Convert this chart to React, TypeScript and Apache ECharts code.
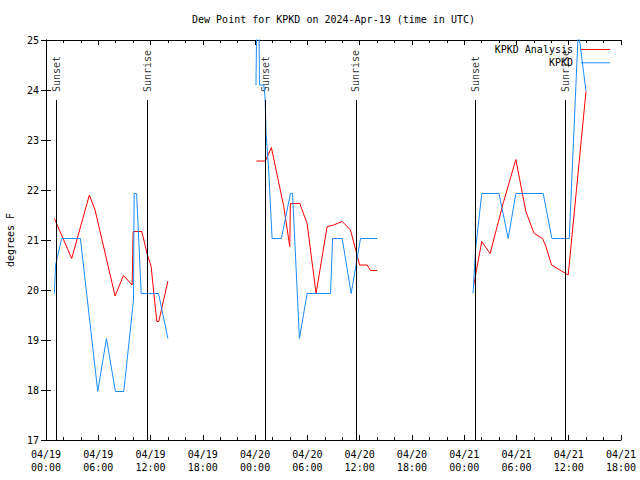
import React, { useEffect, useRef } from "react";
import * as echarts from "echarts";

// hours since 2024-04-19 00:00 UTC
const xTickLabels = [
  "04/19\n00:00", "04/19\n06:00", "04/19\n12:00", "04/19\n18:00",
  "04/20\n00:00", "04/20\n06:00", "04/20\n12:00", "04/20\n18:00",
  "04/21\n00:00", "04/21\n06:00", "04/21\n12:00", "04/21\n18:00",
];

// KPKD Analysis (red)
const analysisHours = [
  0.96, 2.95, 4.98, 5.63, 7.93, 8.89, 9.89, 10.0, 11.0, 11.61, 12.07, 12.34, 12.72, 12.95, 13.99,
  19,
  24.15, 25.18, 25.87, 27.29, 27.98, 28.05, 29.13, 29.97, 31.0, 32.27, 33.0, 34.0, 34.95, 36.0, 36.87, 37.25, 38.02,
  43,
  49.06, 50.02, 50.98, 52.5, 53.93, 55.08, 56.03, 57.0, 57.38, 58.03, 59.94, 61.98,
];
const analysisDew = [
  21.43, 20.63, 21.9, 21.6, 19.88, 20.29, 20.1, 21.17, 21.17, 20.72, 20.47, 20.0, 19.37, 19.37, 20.18,
  null,
  22.58, 22.58, 22.85, 21.67, 20.87, 21.73, 21.73, 21.33, 19.93, 21.27, 21.3, 21.37, 21.2, 20.5, 20.5, 20.39, 20.39,
  null,
  20.07, 20.97, 20.73, 21.75, 22.61, 21.57, 21.13, 21.03, 20.87, 20.5, 20.3, 23.97,
];

// KPKD observations (blue)
const obsHours = [
  0.96, 1.1, 1.8, 3.95, 5.94, 6.94, 7.97, 8.93, 10.04, 10.12, 10.4, 10.93, 12.92, 13.99,
  19,
  24.1, 24.2, 24.45, 24.5, 25.0, 25.15, 25.26, 25.56, 25.95, 27.02, 28.06, 28.3, 29.09, 29.97, 32.66, 32.9, 34.0, 35.03, 36.1, 38.02,
  43,
  49.02, 49.3, 50.02, 52.0, 53.05, 53.93, 57.07, 58.07, 60.06, 61.1, 61.98,
];
const obsDew = [
  19.93, 20.5, 21.03, 21.03, 17.97, 19.03, 17.97, 17.97, 19.8, 21.93, 21.93, 19.93, 19.93, 19.03,
  null,
  24.1, 25.5, 25.5, 24.1, 24.1, 23.84, 23.13, 22.4, 21.03, 21.03, 21.93, 21.93, 19.03, 19.93, 19.93, 21.03, 21.03, 19.93, 21.03, 21.03,
  null,
  19.93, 20.8, 21.93, 21.93, 21.03, 21.93, 21.93, 21.03, 21.03, 25.2, 23.98,
];

const sunHours = [1.15, 11.6, 25.22, 35.57, 49.25, 59.58];
const sunLabels = ["Sunset", "Sunrise", "Sunset", "Sunrise", "Sunset", "Sunrise"];
const sunLineTop = 23.8;

const FONT = "DejaVu Sans Mono";

export default function App() {
  const ref = useRef<HTMLDivElement>(null);
  useEffect(() => {
    if (!ref.current) return;
    const chart = echarts.init(ref.current, null, { renderer: "svg" });
    const pairs = (xs: number[], ys: (number | null)[]) =>
      xs.map((x, i) => [x, ys[i] === null ? "-" : ys[i]]);
    const textStyle = { fontFamily: FONT, fontSize: 10, color: "#000" };
    const axisCommonX = {
      type: "value" as const,
      min: 0,
      max: 66,
      interval: 6,
      splitLine: { show: false },
      axisLine: { show: true, lineStyle: { color: "#000", width: 1 } },
      axisTick: { show: true, inside: true, length: 5, lineStyle: { color: "#000" } },
      minorTick: { show: true, splitNumber: 3, length: 3, lineStyle: { color: "#000" } },
    };
    const axisCommonY = {
      type: "value" as const,
      min: 17,
      max: 25,
      interval: 1,
      splitLine: { show: false },
      axisLine: { show: true, lineStyle: { color: "#000", width: 1 } },
      axisTick: { show: true, inside: true, length: 5, lineStyle: { color: "#000" } },
    };
    const lineIcon = "path://M0,0H30V1H0Z";
    chart.setOption({
      animation: false,
      backgroundColor: "#fff",
      graphic: [
        {
          type: "text",
          x: 333.5,
          y: 19,
          style: {
            text: "Dew Point for KPKD on 2024-Apr-19 (time in UTC)",
            textAlign: "center",
            textVerticalAlign: "middle",
            font: `10px "${FONT}"`,
            fill: "#000",
          },
        },
      ],
      grid: { left: 46, right: 19, top: 40, bottom: 40, outerBoundsMode: "none", containLabel: false },
      legend: {
        orient: "vertical",
        align: "right",
        right: 30,
        top: 43,
        padding: 0,
        itemGap: 0.3,
        itemWidth: 29,
        itemHeight: 13,
        textStyle: { ...textStyle, lineHeight: 13, padding: [0, 3, 0, 0] },
        data: [
          { name: "KPKD Analysis", icon: lineIcon },
          { name: "KPKD", icon: lineIcon },
        ],
      },
      xAxis: [
        {
          ...axisCommonX,
          position: "bottom",
          axisLabel: {
            ...textStyle,
            lineHeight: 13,
            margin: 8,
            formatter: (v: number) => xTickLabels[Math.round(v / 6)] ?? "",
          },
        },
        { ...axisCommonX, position: "top", axisLabel: { show: false } },
      ],
      yAxis: [
        {
          ...axisCommonY,
          position: "left",
          axisLabel: { ...textStyle, margin: 7 },
          name: "degrees F",
          nameLocation: "middle",
          nameGap: 31,
          nameRotate: 90,
          nameTextStyle: textStyle,
        },
        { ...axisCommonY, position: "right", axisLabel: { show: false } },
      ],
      series: [
        {
          name: "KPKD Analysis",
          type: "line",
          symbol: "none",
          clip: true,
          lineStyle: { color: "#ff0000", width: 1 },
          itemStyle: { color: "#ff0000" },
          data: pairs(analysisHours, analysisDew),
        },
        {
          name: "KPKD",
          type: "line",
          symbol: "none",
          clip: true,
          lineStyle: { color: "#1a8cff", width: 1 },
          itemStyle: { color: "#1a8cff" },
          data: pairs(obsHours, obsDew),
        },
        {
          name: "sun",
          type: "scatter",
          symbolSize: 0,
          silent: true,
          data: sunHours.map((h, i) => ({ name: sunLabels[i], value: [h, sunLineTop] })),
          label: {
            show: true,
            position: "top",
            distance: 8,
            rotate: 90,
            align: "left",
            verticalAlign: "middle",
            formatter: "{b}",
            ...textStyle,
          },
          markLine: {
            silent: true,
            symbol: "none",
            label: { show: false },
            lineStyle: { color: "#000", width: 1, type: "solid" },
            data: sunHours.map((h) => [
              { coord: [h, sunLineTop] },
              { coord: [h, 17] },
            ]),
          },
        },
      ],
    });
    return () => chart.dispose();
  }, []);
  return (
    <div
      ref={ref}
      style={{ position: "absolute", left: 0, top: 0, width: 640, height: 480, background: "#fff" }}
    />
  );
}
